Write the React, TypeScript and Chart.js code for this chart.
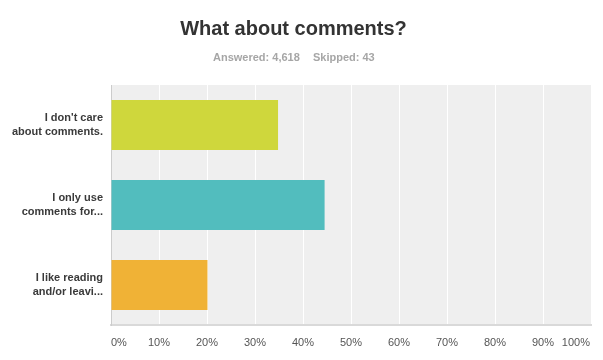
import React, { useEffect, useRef } from "react";
import { Chart, registerables } from "chart.js";

Chart.register(...registerables);

const titleText = "What about comments?";
const answeredText = "Answered: 4,618";
const skippedText = "Skipped: 43";

const categories: string[][] = [
  ["I don't care", "about comments."],
  ["I only use", "comments for..."],
  ["I like reading", "and/or leavi..."],
];
const percentValues: number[] = [34.8, 44.5, 20.1];
const xTickValues: number[] = [0, 10, 20, 30, 40, 50, 60, 70, 80, 90, 100];
const xTickLabels: string[] = ["0%", "10%", "20%", "30%", "40%", "50%", "60%", "70%", "80%", "90%", "100%"];

const barColors = ["#cfd73c", "#52bdbe", "#f0b236"];
const FONT = '"Liberation Sans", Arial, Helvetica, sans-serif';

export default function App() {
  const ref = useRef<HTMLCanvasElement | null>(null);

  useEffect(() => {
    if (!ref.current) return;
    Chart.defaults.font.family = FONT;

    const bgPlugin = {
      id: "bgPlugin",
      beforeDraw(chart: any) {
        const { ctx, chartArea } = chart;
        ctx.save();
        ctx.fillStyle = "#efefef";
        ctx.fillRect(chartArea.left, chartArea.top, chartArea.right - chartArea.left, chartArea.bottom - chartArea.top);
        ctx.restore();
      },
    };

    const textPlugin = {
      id: "textPlugin",
      afterDraw(chart: any) {
        const { ctx, chartArea } = chart;
        const cx = chart.width / 2 - 8;
        ctx.save();
        ctx.fillStyle = "#333333";
        ctx.font = `bold 20px ${FONT}`;
        ctx.textAlign = "center";
        ctx.textBaseline = "alphabetic";
        ctx.fillText(titleText, cx, 35);

        ctx.fillStyle = "#a6a6a6";
        ctx.font = `bold 11px ${FONT}`;
        ctx.textAlign = "left";
        ctx.textBaseline = "middle";
        ctx.fillText(answeredText, 213, 58);
        ctx.fillText(skippedText, 313, 58);

        const xs = chart.scales.x;
        ctx.fillStyle = "#555555";
        ctx.font = `11px ${FONT}`;
        xTickValues.forEach((v, i) => {
          const px = xs.getPixelForValue(v);
          let align: CanvasTextAlign = "center";
          let x = px;
          if (i === 0) {
            align = "left";
            x = chartArea.left;
          } else if (i === xTickValues.length - 1) {
            align = "right";
            x = chartArea.right - 1;
          }
          ctx.textAlign = align;
          ctx.fillText(xTickLabels[i], x, 343);
        });
        ctx.restore();
      },
    };

    const chart = new Chart(ref.current, {
      type: "bar",
      data: {
        labels: categories,
        datasets: [
          {
            data: percentValues,
            backgroundColor: barColors,
            borderWidth: 0,
            barPercentage: 0.625,
            categoryPercentage: 1,
          },
        ],
      },
      options: {
        indexAxis: "y",
        responsive: false,
        animation: false,
        devicePixelRatio: 1,
        layout: { padding: { left: 0, right: 12, top: 85, bottom: 0 } },
        plugins: {
          legend: { display: false },
          title: { display: false },
          tooltip: { enabled: false },
        },
        scales: {
          x: {
            min: 0,
            max: 100,
            ticks: { stepSize: 10, display: false },
            grid: { color: "#ffffff", lineWidth: 1, drawTicks: false },
            border: { display: true, color: "#d9d9d9", width: 2 },
            afterFit: (s: any) => {
              s.height = 35;
            },
          },
          y: {
            grid: { display: false, drawTicks: false },
            border: { display: true, color: "#cccccc", width: 1 },
            ticks: {
              color: "#3a3a3a",
              padding: 8,
              font: { size: 11, weight: "bold", family: FONT, lineHeight: 1.2 },
            },
            afterFit: (s: any) => {
              s.width = 111;
            },
          },
        },
      },
      plugins: [bgPlugin, textPlugin],
    } as any);

    return () => chart.destroy();
  }, []);

  return (
    <div style={{ position: "absolute", left: 0, top: 0, width: 603, height: 360, background: "#fff" }}>
      <canvas ref={ref} width={603} height={360} style={{ display: "block" }} />
    </div>
  );
}
